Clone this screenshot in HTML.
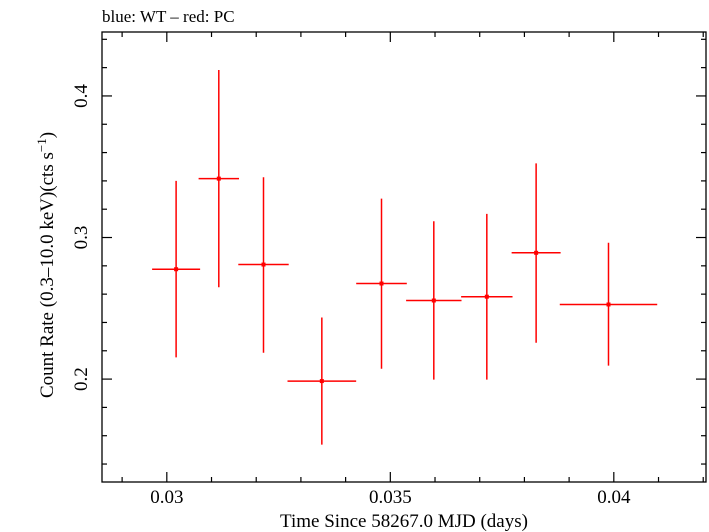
<!DOCTYPE html>
<html><head><meta charset="utf-8"><style>
body{margin:0;background:#fff}
svg{display:block;font-family:"Liberation Serif",serif}
</style></head><body>
<svg id="chart" width="709" height="532" viewBox="0 0 709 532" xmlns="http://www.w3.org/2000/svg">
<text x="102" y="22" font-size="17">blue: WT – red: PC</text>
<g id="axes"></g>
<g id="series"></g>
<text x="404" y="527" font-size="19" text-anchor="middle">Time Since 58267.0 MJD (days)</text>
<text transform="translate(53,265) rotate(-90)" font-size="19" text-anchor="middle">Count Rate (0.3–10.0 keV)(cts s<tspan font-size="13" dy="-7">−1</tspan><tspan dy="7">)</tspan></text>
</svg>
<script>
const times = [0.030208,0.031163,0.032163,0.033468,0.034803,0.035973,0.037159,0.038262,0.039881];
const halfWidths = [0.000537,0.000452,0.000564,0.000768,0.000566,0.00062,0.000575,0.000548,0.00109];
const rates = [0.2776,0.3416,0.2809,0.1986,0.2675,0.2555,0.2582,0.2892,0.2527];
const errUp = [0.0624,0.0767,0.0617,0.0449,0.0600,0.0560,0.0585,0.0632,0.0436];
const errDown = [0.0623,0.0767,0.0623,0.0449,0.0602,0.0559,0.0586,0.0635,0.0432];
const xTickLabels = ["0.03","0.035","0.04"];
const yTickLabels = ["0.2","0.3","0.4"];

const L=102,R=706,T=32,B=482;
const X0=0.02855, X1=0.02855+(R-L)/44700;
const Y0=0.2-(B-379)/1417, Y1=0.4+(96-T)/1417;
const sx=v=>L+(v-X0)/(X1-X0)*(R-L);
const sy=v=>B-(v-Y0)/(Y1-Y0)*(B-T);
const NS="http://www.w3.org/2000/svg";
function mk(tag,attrs,parent){const e=document.createElementNS(NS,tag);for(const k in attrs)e.setAttribute(k,attrs[k]);parent.appendChild(e);return e;}
const ax=document.getElementById('axes');
const frame=mk('rect',{x:L,y:T,width:R-L,height:B-T,fill:'none',stroke:'#000','stroke-width':1.3},ax);


// x ticks
for(let i=29;i<=42;i++){const v=i/1000;if(v<X0||v>X1)continue;const x=sx(v);const major=(i%5===0);const len=major?10:5;
 const t1=mk('line',{x1:x,x2:x,y1:B,y2:B-len,stroke:'#000','stroke-width':1.2},ax);
 
 
 const t2=mk('line',{x1:x,x2:x,y1:T,y2:T+len,stroke:'#000','stroke-width':1.2},ax);
 
 }
xTickLabels.forEach(s=>{const tx=mk('text',{x:sx(parseFloat(s)),y:503,'font-size':19,'text-anchor':'middle'},ax);tx.textContent=s;
 
 });
// y ticks
for(let i=6;i<=22;i++){const v=i/50;if(v<Y0||v>Y1)continue;const y=sy(v);const major=(i%5===0);const len=major?10:5;
 const t1=mk('line',{x1:L,x2:L+len,y1:y,y2:y,stroke:'#000','stroke-width':1.2},ax);
 
 
 const t2=mk('line',{x1:R,x2:R-len,y1:y,y2:y,stroke:'#000','stroke-width':1.2},ax);
 
 }
yTickLabels.forEach(s=>{const y=sy(parseFloat(s));const tx=mk('text',{transform:`translate(87,${y}) rotate(-90)`,'font-size':19,'text-anchor':'middle'},ax);tx.textContent=s;
 
 });
// series
const g=document.getElementById('series');
times.forEach((t,i)=>{const x=sx(t),y=sy(rates[i]);
 const h=mk('line',{x1:sx(t-halfWidths[i]),x2:sx(t+halfWidths[i]),y1:y,y2:y,stroke:'#f00','stroke-width':1.5},g);
 
 
 const v=mk('line',{x1:x,x2:x,y1:sy(rates[i]+errUp[i]),y2:sy(rates[i]-errDown[i]),stroke:'#f00','stroke-width':1.5},g);
 
 
 const p=mk('rect',{x:x-2,y:y-2,width:4,height:4,fill:'#f00'},g);
 
 
});
</script>
</body></html>
